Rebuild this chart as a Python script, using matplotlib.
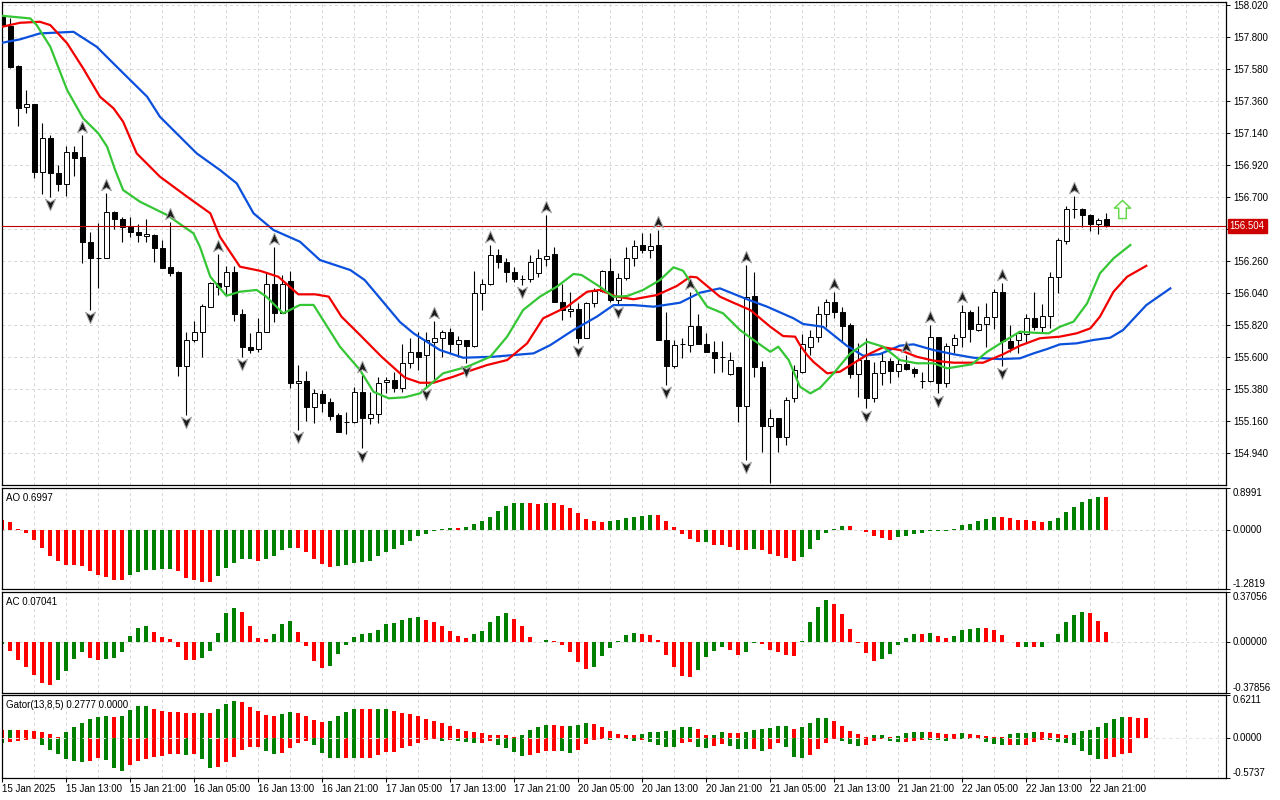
import numpy as np
import matplotlib
matplotlib.use("Agg")
import matplotlib.pyplot as plt
import matplotlib.transforms as mtransforms
from matplotlib.path import Path

plt.rcParams['font.family'] = ['Liberation Sans', 'DejaVu Sans']
plt.rcParams['font.size'] = 7

# hourly bars, 15 Jan 05:00 .. 22 Jan 23:00 (weekend skipped)
opens = [
    157.941, 157.877, 157.602, 157.318, 157.339, 156.876, 157.105, 156.865, 156.789, 157.009,
    156.977, 156.390, 156.282, 156.284, 156.597, 156.551, 156.505, 156.459, 156.432, 156.441,
    156.349, 156.221, 156.184, 155.542, 155.721, 155.772, 155.948, 156.109, 156.092, 156.184,
    155.896, 155.673, 155.655, 155.776, 156.102, 155.902, 156.127, 155.421, 155.437, 155.260,
    155.348, 155.293, 155.203, 155.157, 155.153, 155.359, 155.181, 155.208, 155.428, 155.444,
    155.387, 155.559, 155.634, 155.616, 155.703, 155.731, 155.772, 155.689, 155.717, 155.680,
    156.040, 156.102, 156.303, 156.253, 156.184, 156.138, 156.138, 156.177, 156.276, 156.308,
    155.978, 155.918, 155.932, 155.735, 155.971, 156.056, 156.193, 155.994, 156.147, 156.281,
    156.372, 156.338, 156.372, 155.719, 155.542, 155.689, 155.685, 155.817, 155.689, 155.634,
    155.604, 155.483, 155.531, 155.267, 156.021, 155.531, 155.130, 155.181, 155.054, 155.318,
    155.501, 155.673, 155.742, 155.896, 155.978, 155.909, 155.822, 155.485, 155.581, 155.322,
    155.490, 155.575, 155.506, 155.552, 155.520, 155.439, 155.439, 155.737, 155.421, 155.685,
    155.737, 155.913, 155.788, 155.827, 155.879, 156.047, 155.714, 155.719, 155.758, 155.868,
    155.810, 155.886, 156.150, 156.400, 156.617, 156.617, 156.578, 156.514, 156.551]
highs = [
    157.953, 157.930, 157.610, 157.438, 157.341, 157.208, 157.128, 156.922, 157.054, 157.054,
    157.128, 156.459, 156.521, 156.727, 156.605, 156.566, 156.562, 156.516, 156.551, 156.445,
    156.406, 156.528, 156.190, 155.776, 155.852, 155.966, 156.120, 156.308, 156.230, 156.230,
    155.930, 155.765, 155.868, 156.184, 156.356, 156.166, 156.195, 155.547, 155.506, 155.380,
    155.375, 155.318, 155.215, 155.222, 155.398, 155.478, 155.363, 155.462, 155.462, 155.501,
    155.691, 155.731, 155.772, 155.776, 155.850, 155.788, 155.799, 155.746, 155.720, 156.193,
    156.138, 156.372, 156.345, 156.281, 156.223, 156.166, 156.303, 156.345, 156.578, 156.360,
    156.102, 156.047, 155.971, 155.982, 156.074, 156.200, 156.281, 156.177, 156.360, 156.406,
    156.452, 156.452, 156.475, 155.913, 155.719, 155.731, 156.051, 155.896, 155.765, 155.712,
    155.712, 155.634, 155.535, 156.235, 156.188, 155.574, 155.242, 155.185, 155.329, 155.547,
    155.760, 155.788, 155.955, 156.001, 156.051, 155.948, 155.834, 155.696, 155.731, 155.570,
    155.639, 155.593, 155.593, 155.616, 155.535, 155.501, 155.822, 155.742, 155.696, 155.758,
    155.959, 155.925, 155.953, 155.971, 156.070, 156.109, 155.822, 155.783, 155.898, 156.047,
    155.966, 156.184, 156.418, 156.640, 156.711, 156.628, 156.585, 156.555, 156.590]
lows = [
    157.871, 157.587, 157.190, 157.279, 156.834, 156.720, 156.704, 156.745, 156.711, 156.848,
    156.246, 155.925, 156.074, 156.280, 156.480, 156.394, 156.429, 156.394, 156.390, 156.253,
    156.212, 156.161, 155.473, 155.203, 155.703, 155.600, 155.944, 156.028, 156.028, 155.852,
    155.604, 155.627, 155.634, 155.772, 155.845, 155.902, 155.387, 155.100, 155.164, 155.146,
    155.226, 155.169, 155.088, 155.071, 155.146, 154.974, 155.139, 155.146, 155.352, 155.363,
    155.363, 155.524, 155.513, 155.398, 155.444, 155.604, 155.627, 155.604, 155.559, 155.673,
    155.925, 156.097, 156.216, 156.120, 156.120, 156.097, 156.120, 156.154, 156.230, 155.978,
    155.856, 155.879, 155.696, 155.731, 155.948, 156.051, 155.982, 155.959, 156.131, 156.230,
    156.315, 156.281, 155.719, 155.409, 155.524, 155.593, 155.634, 155.689, 155.634, 155.490,
    155.501, 155.478, 155.157, 154.894, 155.466, 154.951, 154.734, 154.951, 154.997, 155.295,
    155.490, 155.616, 155.703, 155.810, 155.868, 155.707, 155.456, 155.329, 155.249, 155.295,
    155.409, 155.421, 155.467, 155.513, 155.467, 155.387, 155.432, 155.352, 155.398, 155.627,
    155.673, 155.707, 155.783, 155.673, 155.792, 155.540, 155.638, 155.627, 155.700, 155.788,
    155.765, 155.803, 156.044, 156.379, 156.555, 156.498, 156.468, 156.446, 156.498]
closes = [
    157.877, 157.598, 157.316, 157.339, 156.876, 157.105, 156.865, 156.789, 157.009, 156.972,
    156.394, 156.280, 156.284, 156.597, 156.549, 156.494, 156.459, 156.441, 156.445, 156.349,
    156.216, 156.182, 155.542, 155.721, 155.772, 155.955, 156.109, 156.085, 156.184, 155.896,
    155.673, 155.650, 155.776, 156.102, 155.902, 156.102, 155.421, 155.437, 155.260, 155.352,
    155.288, 155.199, 155.088, 155.158, 155.359, 155.181, 155.208, 155.425, 155.444, 155.387,
    155.559, 155.634, 155.604, 155.719, 155.731, 155.772, 155.689, 155.717, 155.680, 156.040,
    156.102, 156.303, 156.253, 156.184, 156.138, 156.139, 156.253, 156.281, 156.298, 155.978,
    155.925, 155.932, 155.735, 155.971, 156.056, 156.193, 155.994, 156.147, 156.281, 156.367,
    156.338, 156.367, 155.719, 155.542, 155.685, 155.690, 155.817, 155.689, 155.634, 155.597,
    155.603, 155.581, 155.267, 156.012, 155.531, 155.130, 155.181, 155.054, 155.306, 155.513,
    155.691, 155.739, 155.896, 155.978, 155.909, 155.817, 155.485, 155.581, 155.322, 155.490,
    155.575, 155.506, 155.552, 155.520, 155.490, 155.440, 155.737, 155.421, 155.680, 155.735,
    155.913, 155.792, 155.829, 155.879, 156.047, 155.714, 155.666, 155.765, 155.868, 155.810,
    155.886, 156.150, 156.406, 156.617, 156.618, 156.578, 156.514, 156.544, 156.504]

# alligator lines (bar index, price), shifted forward 3 / 5 / 8 bars
lips_x = [0.0, 3.5, 4.3, 6.0, 8.1, 10.1, 12.0, 13.1, 14.1, 15.1, 17.2, 20.6, 23.9, 24.7, 26.0,
          28.0, 29.7, 31.8, 33.0, 35.1, 37.2, 38.9, 40.1, 42.2, 44.7, 46.4, 48.3, 50.3, 52.2,
          55.1, 58.1, 61.0, 63.1, 65.1, 67.2, 69.3, 71.4, 72.4, 74.7, 76.4, 78.1, 80.1, 82.2,
          83.9, 85.1, 86.4, 88.1, 90.1, 92.2, 93.9, 96.0, 97.0, 98.3, 99.7, 101.0, 102.2,
          103.9, 106.0, 108.1, 110.1, 112.2, 114.3, 116.4, 118.1, 121.2, 123.1, 125.1, 127.2,
          128.9, 130.8, 132.2, 133.9, 135.6, 137.2, 138.9, 141.0]
lips_y = [157.948, 157.930, 157.884, 157.735, 157.438, 157.243, 157.140, 157.048, 156.888,
          156.750, 156.670, 156.578, 156.452, 156.360, 156.154, 156.023, 156.051, 156.063,
          156.017, 155.902, 155.960, 155.960, 155.856, 155.673, 155.513, 155.363, 155.318,
          155.325, 155.352, 155.490, 155.535, 155.604, 155.742, 155.925, 156.017, 156.085,
          156.173, 156.166, 156.085, 156.017, 156.021, 156.063, 156.131, 156.219, 156.195,
          156.085, 155.948, 155.902, 155.788, 155.719, 155.638, 155.673, 155.581, 155.398,
          155.352, 155.389, 155.490, 155.627, 155.707, 155.673, 155.581, 155.559, 155.559,
          155.524, 155.552, 155.638, 155.707, 155.776, 155.769, 155.765, 155.810, 155.845,
          155.971, 156.177, 156.280, 156.372]
teeth_x = [0.0, 2.2, 4.7, 6.0, 8.1, 10.1, 12.2, 13.9, 15.1, 16.8, 19.7, 23.1, 26.0, 27.2, 29.7,
           32.2, 34.5, 37.0, 39.1, 40.8, 42.4, 44.5, 47.4, 50.3, 52.2, 53.9, 56.4, 58.1, 60.6,
           63.1, 65.6, 67.6, 70.6, 73.1, 74.7, 76.8, 78.9, 81.8, 84.3, 86.0, 86.8, 89.7, 91.4,
           93.5, 96.0, 97.6, 99.1, 99.7, 100.6, 101.4, 103.1, 104.7, 106.4, 108.1, 110.1,
           112.2, 114.3, 116.4, 118.9, 122.6, 125.1, 127.2, 129.7, 132.2, 134.3, 136.0, 137.2,
           138.9, 140.6, 143.0]
teeth_y = [157.873, 157.900, 157.907, 157.884, 157.759, 157.587, 157.392, 157.312, 157.220,
           157.002, 156.842, 156.704, 156.590, 156.429, 156.223, 156.195, 156.154, 156.033,
           156.033, 156.017, 155.879, 155.765, 155.604, 155.461, 155.425, 155.425, 155.467,
           155.501, 155.547, 155.581, 155.696, 155.868, 155.948, 156.051, 156.063, 156.017,
           155.999, 156.028, 156.090, 156.154, 156.150, 156.017, 155.975, 155.925, 155.810,
           155.746, 155.742, 155.685, 155.616, 155.568, 155.490, 155.501, 155.559, 155.616,
           155.669, 155.650, 155.604, 155.577, 155.563, 155.563, 155.621, 155.680, 155.731,
           155.742, 155.765, 155.799, 155.879, 156.051, 156.154, 156.229]
jaw_x = [0.0, 2.2, 4.7, 8.9, 11.8, 14.3, 18.1, 19.7, 22.2, 24.3, 27.2, 29.3, 31.4, 33.9, 37.2,
         39.7, 43.5, 45.3, 47.4, 49.7, 51.4, 54.7, 57.6, 61.4, 66.4, 68.5, 71.4, 74.3, 76.4,
         78.9, 81.4, 84.7, 87.2, 89.7, 93.1, 95.6, 98.9, 100.1, 102.6, 105.6, 107.6, 109.7,
         112.2, 113.9, 116.4, 118.9, 121.4, 124.7, 127.2, 128.9, 130.6, 132.2, 134.3, 136.4,
         138.5, 140.1, 143.0, 146.0]
jaw_y = [157.763, 157.786, 157.827, 157.838, 157.735, 157.598, 157.392, 157.254, 157.117,
         157.002, 156.888, 156.796, 156.590, 156.475, 156.395, 156.269, 156.200, 156.131,
         155.994, 155.843, 155.765, 155.650, 155.597, 155.604, 155.627, 155.684, 155.788,
         155.879, 155.959, 155.959, 155.948, 155.975, 156.044, 156.074, 155.999, 155.948,
         155.868, 155.829, 155.810, 155.678, 155.611, 155.622, 155.680, 155.689, 155.650,
         155.621, 155.597, 155.588, 155.593, 155.627, 155.657, 155.689, 155.696, 155.719,
         155.735, 155.788, 155.959, 156.074]

up_fractals = [10, 13, 21, 27, 34, 45, 54, 61, 68, 82, 86, 93, 104, 113, 116, 120, 125, 134]
down_fractals = [6, 11, 23, 30, 37, 45, 53, 58, 65, 72, 77, 83, 93, 96, 108, 117, 125]
signal_bar, signal_price = 140, 156.62
last_price = 156.504

# indicator series; first value belongs to the bar just left of the window
ao_values = [0.25,
    0.206, 0.161, 0.022, -0.073, -0.228, -0.404, -0.580, -0.668, -0.756, -0.760,
    -0.785, -0.888, -0.976, -1.020, -1.079, -1.082, -0.976, -0.918, -0.866, -0.864,
    -0.859, -0.844, -0.903, -1.042, -1.079, -1.130, -1.135, -0.998, -0.822, -0.719,
    -0.639, -0.636, -0.668, -0.624, -0.565, -0.440, -0.389, -0.404, -0.492, -0.624,
    -0.734, -0.800, -0.785, -0.771, -0.712, -0.690, -0.668, -0.580, -0.492, -0.426,
    -0.338, -0.250, -0.139, -0.095, -0.029, 0.022, 0.044, 0.042, 0.051, 0.117,
    0.184, 0.272, 0.404, 0.514, 0.565, 0.580, 0.565, 0.563, 0.580, 0.578,
    0.536, 0.470, 0.367, 0.228, 0.184, 0.161, 0.191, 0.213, 0.250, 0.272,
    0.294, 0.316, 0.313, 0.184, 0.051, -0.095, -0.206, -0.272, -0.270, -0.323,
    -0.325, -0.367, -0.448, -0.450, -0.411, -0.448, -0.521, -0.565, -0.609, -0.668,
    -0.587, -0.411, -0.228, -0.073, 0.022, 0.073, 0.071, -0.005, -0.051, -0.147,
    -0.184, -0.213, -0.169, -0.147, -0.095, -0.073, -0.029, -0.022, -0.020, 0.007,
    0.095, 0.117, 0.184, 0.228, 0.272, 0.265, 0.250, 0.206, 0.204, 0.184,
    0.161, 0.184, 0.250, 0.382, 0.492, 0.602, 0.660, 0.705, 0.6997]
ac_values = [-0.030,
    -0.018, -0.066, -0.132, -0.183, -0.242, -0.303, -0.318, -0.280, -0.219, -0.127,
    -0.074, -0.122, -0.135, -0.127, -0.120, -0.074, 0.046, 0.107, 0.115, 0.076,
    0.038, 0.023, -0.036, -0.135, -0.137, -0.120, -0.066, 0.069, 0.214, 0.250,
    0.222, 0.122, 0.031, 0.023, 0.061, 0.130, 0.153, 0.076, -0.028, -0.143,
    -0.196, -0.181, -0.089, -0.020, 0.038, 0.056, 0.064, 0.092, 0.130, 0.138,
    0.161, 0.176, 0.183, 0.161, 0.145, 0.122, 0.084, 0.046, 0.031, 0.061,
    0.084, 0.145, 0.191, 0.214, 0.168, 0.115, 0.038, -0.003, 0.015, 0.008,
    -0.020, -0.076, -0.145, -0.199, -0.183, -0.107, -0.046, 0.008, 0.054, 0.069,
    0.061, 0.054, 0.015, -0.099, -0.183, -0.252, -0.260, -0.206, -0.115, -0.069,
    -0.038, -0.061, -0.099, -0.076, -0.008, -0.015, -0.061, -0.076, -0.099, -0.107,
    0.008, 0.145, 0.260, 0.313, 0.283, 0.206, 0.099, -0.005, -0.084, -0.138,
    -0.130, -0.092, -0.020, 0.031, 0.061, 0.060, 0.069, 0.046, 0.031, 0.046,
    0.092, 0.093, 0.107, 0.106, 0.092, 0.054, -0.003, -0.038, -0.036, -0.038,
    -0.035, 0.003, 0.061, 0.145, 0.199, 0.222, 0.214, 0.153, 0.0704]
gator_up = [0.125,
    0.117, 0.119, 0.117, 0.114, 0.102, 0.087, 0.058, 0.019, 0.087, 0.160,
    0.219, 0.277, 0.306, 0.321, 0.306, 0.321, 0.408, 0.466, 0.469, 0.423,
    0.393, 0.379, 0.376, 0.364, 0.362, 0.364, 0.362, 0.423, 0.495, 0.539,
    0.525, 0.452, 0.393, 0.335, 0.321, 0.350, 0.379, 0.369, 0.321, 0.262,
    0.228, 0.243, 0.321, 0.379, 0.423, 0.420, 0.418, 0.421, 0.423, 0.393,
    0.369, 0.350, 0.321, 0.282, 0.243, 0.214, 0.175, 0.126, 0.102, 0.087,
    0.073, 0.044, 0.043, 0.042, 0.019, 0.044, 0.117, 0.160, 0.189, 0.187,
    0.175, 0.177, 0.189, 0.219, 0.204, 0.160, 0.102, 0.058, 0.044, 0.043,
    0.058, 0.087, 0.090, 0.102, 0.117, 0.160, 0.163, 0.131, 0.044, 0.046,
    0.087, 0.073, 0.072, 0.087, 0.117, 0.131, 0.146, 0.175, 0.177, 0.131,
    0.160, 0.219, 0.291, 0.294, 0.248, 0.175, 0.102, 0.058, 0.015, 0.044,
    0.045, 0.015, 0.029, 0.073, 0.087, 0.089, 0.087, 0.073, 0.058, 0.057,
    0.073, 0.058, 0.044, 0.029, 0.015, 0.014, 0.058, 0.073, 0.074, 0.087,
    0.085, 0.075, 0.058, 0.047, 0.075, 0.104, 0.121, 0.160, 0.219, 0.278,
    0.306, 0.304, 0.291, 0.289]
gator_down = [-0.050,
    -0.063, -0.053, -0.039, -0.024, -0.015, -0.097, -0.170, -0.228, -0.301, -0.330,
    -0.345, -0.330, -0.287, -0.316, -0.432, -0.476, -0.389, -0.330, -0.301, -0.272,
    -0.257, -0.228, -0.226, -0.243, -0.223, -0.301, -0.432, -0.418, -0.345, -0.272,
    -0.165, -0.126, -0.124, -0.185, -0.228, -0.214, -0.141, -0.068, -0.039, -0.097,
    -0.214, -0.282, -0.284, -0.282, -0.284, -0.282, -0.279, -0.243, -0.199, -0.197,
    -0.136, -0.112, -0.068, -0.024, -0.010, -0.039, -0.024, -0.034, -0.053, -0.068,
    -0.067, -0.039, -0.097, -0.136, -0.199, -0.257, -0.243, -0.214, -0.185, -0.182,
    -0.185, -0.214, -0.170, -0.083, -0.024, -0.010, -0.024, -0.005, -0.015, -0.039,
    -0.024, -0.053, -0.097, -0.126, -0.128, -0.068, -0.053, -0.126, -0.141, -0.112,
    -0.083, -0.112, -0.155, -0.157, -0.155, -0.185, -0.155, -0.068, -0.126, -0.272,
    -0.287, -0.243, -0.155, -0.068, -0.010, -0.039, -0.083, -0.112, -0.097, -0.039,
    -0.010, -0.039, -0.053, -0.052, -0.039, -0.024, -0.025, -0.026, -0.039, -0.010,
    -0.011, -0.012, -0.013, -0.053, -0.083, -0.097, -0.096, -0.097, -0.096, -0.053,
    -0.024, -0.025, -0.053, -0.068, -0.097, -0.185, -0.243, -0.296, -0.294, -0.272,
    -0.233, -0.219]

price_ticks = [154.940, 155.160, 155.380, 155.600, 155.820, 156.040, 156.260, 156.480,
               156.700, 156.920, 157.140, 157.360, 157.580, 157.800, 158.020]
time_labels = ['15 Jan 2025', '15 Jan 13:00', '15 Jan 21:00', '16 Jan 05:00', '16 Jan 13:00',
               '16 Jan 21:00', '17 Jan 05:00', '17 Jan 13:00', '17 Jan 21:00', '20 Jan 05:00',
               '20 Jan 13:00', '20 Jan 21:00', '21 Jan 05:00', '21 Jan 13:00', '21 Jan 21:00',
               '22 Jan 05:00', '22 Jan 13:00', '22 Jan 21:00']

GREEN = '#008000'
RED = '#ff0000'
GRID = '#d6d6d6'
DASH = (0, (3, 3))


def trend_colors(vals):
    # green when the bar grew against the previous one (by size), red otherwise
    vals = np.abs(np.asarray(vals))
    out = [RED]
    for i in range(1, len(vals)):
        out.append(GREEN if vals[i] >= vals[i - 1] else RED)
    return out


def signed_colors(vals):
    vals = np.asarray(vals)
    out = [RED]
    for i in range(1, len(vals)):
        out.append(GREEN if vals[i] >= vals[i - 1] else RED)
    return out


fig = plt.figure(figsize=(12.8, 8), dpi=100)
fig.patch.set_facecolor('white')


def pane(top, bottom):
    return fig.add_axes([2 / 1280, 1 - bottom / 800, 1224 / 1280, (bottom - top) / 800])


ax = pane(2, 485)
ax_ao = pane(488, 589)
ax_ac = pane(592, 693)
ax_gt = pane(695, 778)

for a in [ax, ax_ao, ax_ac, ax_gt]:
    a.set_xlim(-0.04, 152.96)
    for x in range(0, 153, 4):
        a.axvline(x, color=GRID, lw=0.7, ls=DASH, zorder=0)
    a.yaxis.tick_right()
    a.tick_params(axis='y', direction='out', length=3, width=0.7, pad=2, labelsize=7)
    a.tick_params(axis='x', length=0, labelbottom=False)
    for s in a.spines.values():
        s.set_linewidth(0.9)

# ---- price pane
o = np.array(opens)
h = np.array(highs)
l = np.array(lows)
c = np.array(closes)
bars = np.arange(len(o))

ax.set_ylim(154.722, 158.043)
ax.set_yticks(price_ticks)
# the 156.480 label sits under the last-price tag
ax.set_yticklabels(['' if abs(p - 156.48) < 1e-6 else f'{p:.3f}' for p in price_ticks])
for p in price_ticks:
    ax.axhline(p, color=GRID, lw=0.7, ls=DASH, zorder=0)

bull = c >= o
ax.vlines(bars, l, h, color='black', lw=0.8, zorder=3)
ax.bar(bars, np.maximum(np.abs(c - o), 0.001), bottom=np.minimum(o, c), width=0.58,
       color=np.where(bull, 'white', 'black'), edgecolor='black', linewidth=0.7, zorder=4)

ax.plot(jaw_x, jaw_y, color='#0a50dc', lw=1.6, zorder=5)
ax.plot(teeth_x, teeth_y, color='#f20000', lw=1.6, zorder=5)
ax.plot(lips_x, lips_y, color='#35c635', lw=1.6, zorder=5)

up_mark = Path([(0, 1), (0.8, -0.85), (0, -0.35), (-0.8, -0.85), (0, 1)],
               [Path.MOVETO, Path.LINETO, Path.LINETO, Path.LINETO, Path.CLOSEPOLY])
down_mark = Path([(0, -1), (0.8, 0.85), (0, 0.35), (-0.8, 0.85), (0, -1)],
                 [Path.MOVETO, Path.LINETO, Path.LINETO, Path.LINETO, Path.CLOSEPOLY])
uf = np.array(up_fractals)
df = np.array(down_fractals)
ax.plot(uf, h[uf] + 0.055, ls='none', marker=up_mark, ms=9, mfc='#1c1c1c',
        mec='#a8a8a8', mew=0.7, zorder=6)
ax.plot(df, l[df] - 0.05, ls='none', marker=down_mark, ms=9, mfc='#1c1c1c',
        mec='#a8a8a8', mew=0.7, zorder=6)

sig_mark = Path([(0, 1), (0.9, 0.15), (0.42, 0.15), (0.42, -1), (-0.42, -1), (-0.42, 0.15),
                 (-0.9, 0.15), (0, 1)],
                [Path.MOVETO] + [Path.LINETO] * 6 + [Path.CLOSEPOLY])
ax.plot([signal_bar], [signal_price], ls='none', marker=sig_mark, ms=13, mfc='white',
        mec='#66d94a', mew=1.1, zorder=6)

ax.axhline(last_price, color='#c00000', lw=0.8, zorder=5)
trans = mtransforms.blended_transform_factory(ax.transAxes, ax.transData)
ax.text(1.003, last_price, f'{last_price:.3f}', transform=trans, color='white', fontsize=7,
        va='center', ha='left', clip_on=False, zorder=10,
        bbox=dict(boxstyle='square,pad=0.2', fc='#cc0000', ec='#cc0000'))

# ---- AO
ao_x = np.arange(len(ao_values)) - 1
ax_ao.axhline(0, color=GRID, lw=0.7, ls=DASH, zorder=0)
ax_ao.bar(ao_x, ao_values, width=0.5, color=signed_colors(ao_values), linewidth=0, zorder=2)
ax_ao.set_ylim(-1.2819, 0.8991)
ax_ao.set_yticks([-1.2819, 0, 0.8991], labels=['-1.2819', '0.0000', '0.8991'])
ax_ao.text(0.003, 0.955, 'AO 0.6997', transform=ax_ao.transAxes, va='top', ha='left', fontsize=7)

# ---- AC
ac_x = np.arange(len(ac_values)) - 1
ax_ac.axhline(0, color=GRID, lw=0.7, ls=DASH, zorder=0)
ax_ac.bar(ac_x, ac_values, width=0.5, color=signed_colors(ac_values), linewidth=0, zorder=2)
ax_ac.set_ylim(-0.37856, 0.37056)
ax_ac.set_yticks([-0.37856, 0, 0.37056], labels=['-0.37856', '0.00000', '0.37056'])
ax_ac.text(0.003, 0.955, 'AC 0.07041', transform=ax_ac.transAxes, va='top', ha='left', fontsize=7)

# ---- Gator
gu_x = np.arange(len(gator_up)) - 1
gd_x = np.arange(len(gator_down)) - 1
ax_gt.bar(gu_x, gator_up, width=0.5, color=trend_colors(gator_up), linewidth=0, zorder=2)
ax_gt.bar(gd_x, gator_down, width=0.5, color=trend_colors(gator_down), linewidth=0, zorder=2)
ax_gt.axhline(0, color='#e4e4e4', lw=0.8, ls=DASH, zorder=3)
ax_gt.set_ylim(-0.5737, 0.6211)
ax_gt.set_yticks([-0.5737, 0, 0.6211], labels=['-0.5737', '0.0000', '0.6211'])
ax_gt.text(0.003, 0.94, 'Gator(13,8,5) 0.2777 0.0000', transform=ax_gt.transAxes,
           va='top', ha='left', fontsize=7)

for a in [ax_ao, ax_ac, ax_gt]:
    lbls = a.get_yticklabels()
    for lbl, va in zip(lbls, ['bottom', 'center', 'top']):
        lbl.set_verticalalignment(va)

ax_gt.set_xticks(range(0, 137, 8))
ax_gt.set_xticklabels(time_labels, ha='left')
ax_gt.tick_params(axis='x', length=3, width=0.7, pad=1.5, labelbottom=True, labelsize=7)

fig.savefig('out.png', dpi=100, facecolor='white')
